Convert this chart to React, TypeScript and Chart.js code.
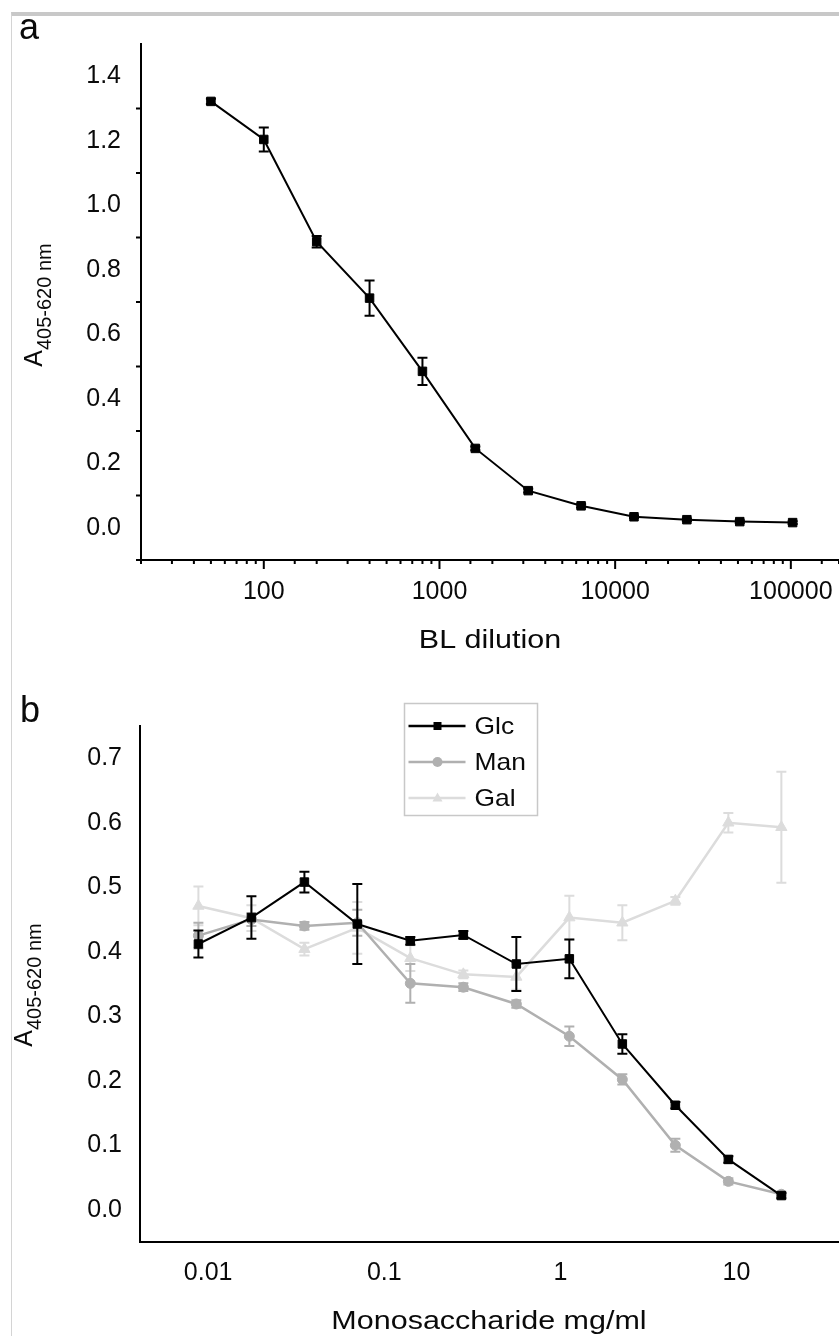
import React, { useEffect, useRef } from 'react';
import { Chart, registerables } from 'chart.js';

Chart.register(...registerables);

const FONT = '"Liberation Sans", Arial, Helvetica, sans-serif';

// ---------- Panel a ----------
const dilutions = [50, 100, 200, 400, 800, 1600, 3200, 6400, 12800, 25600, 51200, 102400];
const absorbanceA = [1.322, 1.204, 0.887, 0.712, 0.485, 0.246, 0.115, 0.068, 0.034, 0.025, 0.019, 0.016];
const errorA = [0.008, 0.037, 0.018, 0.055, 0.042, 0.006, 0.006, 0.005, 0.004, 0.004, 0.004, 0.004];
const xLabelsA = [100, 1000, 10000, 100000];
const yLabelsA = [0, 0.2, 0.4, 0.6, 0.8, 1.0, 1.2, 1.4];

// ---------- Panel b ----------
const concentrations = [0.0088, 0.0176, 0.0352, 0.0703, 0.1406, 0.2813, 0.5625, 1.125, 2.25, 4.5, 9, 18];
const glc = [0.412, 0.453, 0.508, 0.443, 0.417, 0.426, 0.381, 0.389, 0.257, 0.162, 0.078, 0.022];
const glcErr = [0.021, 0.033, 0.016, 0.062, 0.006, 0.006, 0.042, 0.03, 0.015, 0.005, 0.005, 0.004];
const man = [0.425, 0.45, 0.44, 0.445, 0.351, 0.345, 0.319, 0.269, 0.202, 0.1, 0.044, 0.024];
const manErr = [0.02, 0.01, 0.006, 0.02, 0.03, 0.006, 0.006, 0.015, 0.008, 0.01, 0.005, 0.004];
const gal = [0.471, 0.452, 0.404, 0.437, 0.39, 0.365, 0.361, 0.453, 0.445, 0.479, 0.6, 0.593];
const galErr = [0.03, 0.02, 0.01, 0.04, 0.02, 0.006, 0.02, 0.034, 0.027, 0.006, 0.015, 0.086];
const seriesNames = ['Glc', 'Man', 'Gal'];
const seriesColors = ['#000000', '#b0b0b0', '#dcdcdc'];
const xLabelsB = [0.01, 0.1, 1, 10];
const yLabelsB = [0, 0.1, 0.2, 0.3, 0.4, 0.5, 0.6, 0.7];

const TEXT = '#0a0a0a';

function matchLabel(v: number, list: number[], fmt: (n: number) => string, rel: boolean) {
  const hit = list.find((l) => Math.abs(v - l) <= (rel ? Math.abs(l) * 1e-6 : 1e-6));
  return hit === undefined ? '' : fmt(hit);
}

function stretchedText(ctx: any, text: string, x: number, y: number, font: string, sx: number, align: string) {
  ctx.save();
  ctx.font = font;
  ctx.translate(x, y);
  ctx.scale(sx, 1);
  ctx.textAlign = align;
  ctx.textBaseline = 'alphabetic';
  ctx.fillStyle = TEXT;
  ctx.fillText(text, 0, 0);
  ctx.restore();
}

function marker(ctx: any, style: string, x: number, y: number, r: number, color: string) {
  ctx.save();
  ctx.fillStyle = color;
  ctx.beginPath();
  if (style === 'rect') {
    ctx.rect(x - r, y - r, 2 * r, 2 * r);
  } else if (style === 'circle') {
    ctx.arc(x, y, r, 0, Math.PI * 2);
  } else {
    ctx.moveTo(x, y - r * 1.1);
    ctx.lineTo(x + r, y + r * 0.7);
    ctx.lineTo(x - r, y + r * 0.7);
    ctx.closePath();
  }
  ctx.fill();
  ctx.restore();
}

type Decor = {
  letter: string;
  letterX: number;
  letterY: number;
  yTitleX: number;
  yTitleCenter: number;
  xTitle: string;
  xTitleX: number;
  xTitleY: number;
  errors: number[][];
  axisTicks: boolean;
  legend?: { x: number; y: number; w: number; h: number; rows: number[]; styles: string[] };
};

function decorPlugin(d: Decor) {
  return {
    id: 'decor',
    beforeDatasetDraw(chart: any, args: any) {
      const errs = d.errors[args.index];
      if (!errs) return;
      const ds = chart.data.datasets[args.index];
      const meta = chart.getDatasetMeta(args.index);
      const ys = chart.scales.y;
      const ctx = chart.ctx;
      ctx.save();
      ctx.strokeStyle = ds.borderColor;
      ctx.lineWidth = 2;
      ctx.beginPath();
      meta.data.forEach((el: any, i: number) => {
        const v = ds.data[i].y;
        const e = errs[i];
        const t = ys.getPixelForValue(v + e);
        const b = ys.getPixelForValue(v - e);
        ctx.moveTo(el.x, t);
        ctx.lineTo(el.x, b);
        ctx.moveTo(el.x - 5, t);
        ctx.lineTo(el.x + 5, t);
        ctx.moveTo(el.x - 5, b);
        ctx.lineTo(el.x + 5, b);
      });
      ctx.stroke();
      ctx.restore();
    },
    afterDraw(chart: any) {
      const ctx = chart.ctx;
      const ca = chart.chartArea;
      if (d.axisTicks) {
        const xs = chart.scales.x;
        const ys = chart.scales.y;
        ctx.save();
        ctx.strokeStyle = '#000';
        ctx.lineWidth = 2;
        ctx.beginPath();
        xs.ticks.forEach((t: any) => {
          const px = xs.getPixelForValue(t.value);
          if (px < ca.left - 0.5 || px > ca.right + 0.5) return;
          const lg = Math.log10(t.value);
          const major = Math.abs(lg - Math.round(lg)) < 1e-6;
          ctx.moveTo(px, ca.bottom);
          ctx.lineTo(px, ca.bottom + (major ? 9 : 4));
        });
        ys.ticks.forEach((t: any) => {
          const k = Math.round(t.value * 10);
          if (k % 2 === 0 || k >= 15) return;
          const py = ys.getPixelForValue(t.value);
          ctx.moveTo(ca.left, py);
          ctx.lineTo(ca.left - 5, py);
        });
        ctx.stroke();
        ctx.restore();
      }
      // panel letter
      ctx.save();
      ctx.font = `36px ${FONT}`;
      ctx.fillStyle = TEXT;
      ctx.textAlign = 'left';
      ctx.textBaseline = 'alphabetic';
      ctx.fillText(d.letter, d.letterX, d.letterY);
      ctx.restore();
      // y title with subscript
      ctx.save();
      ctx.translate(d.yTitleX, d.yTitleCenter);
      ctx.rotate(-Math.PI / 2);
      ctx.fillStyle = TEXT;
      ctx.textAlign = 'left';
      ctx.textBaseline = 'alphabetic';
      ctx.font = `25px ${FONT}`;
      const wA = ctx.measureText('A').width;
      ctx.font = `20px ${FONT}`;
      const wS = ctx.measureText('405-620 nm').width;
      const start = -(wA + wS) / 2;
      ctx.font = `25px ${FONT}`;
      ctx.fillText('A', start, 0);
      ctx.font = `20px ${FONT}`;
      ctx.fillText('405-620 nm', start + wA, 9);
      ctx.restore();
      // x title
      stretchedText(ctx, d.xTitle, d.xTitleX, d.xTitleY, `25px ${FONT}`, 1.22, 'center');
      // legend
      if (d.legend) {
        const L = d.legend;
        ctx.save();
        ctx.strokeStyle = '#c8c8c8';
        ctx.lineWidth = 1.5;
        ctx.strokeRect(L.x, L.y, L.w, L.h);
        ctx.restore();
        chart.data.datasets.forEach((ds: any, i: number) => {
          const yy = L.rows[i];
          ctx.save();
          ctx.strokeStyle = ds.borderColor;
          ctx.lineWidth = 2.5;
          ctx.beginPath();
          ctx.moveTo(L.x + 4, yy);
          ctx.lineTo(L.x + 61, yy);
          ctx.stroke();
          ctx.restore();
          marker(ctx, L.styles[i], L.x + 33, yy, i === 0 ? 4 : 5, ds.borderColor);
          stretchedText(ctx, ds.label, L.x + 70, yy + 8, `24px ${FONT}`, 1.1, 'left');
        });
      }
    },
  };
}

function baseScales(opts: any) {
  return {
    x: {
      type: 'logarithmic',
      min: opts.xMin,
      max: opts.xMax,
      afterFit: (s: any) => {
        s.height = opts.xHeight;
        s.paddingLeft = 0;
        s.paddingRight = 0;
      },
      grid: { display: true, drawOnChartArea: false, drawTicks: false },
      border: { display: true, color: '#000', width: 2 },
      ticks: {
        autoSkip: false,
        maxRotation: 0,
        minRotation: 0,
        padding: opts.xPad,
        color: TEXT,
        font: { family: FONT, size: 25 },
        callback: (v: any) => matchLabel(Number(v), opts.xLabels, opts.xFmt, true),
      },
    },
    y: {
      type: 'linear',
      min: opts.yMin,
      max: opts.yMax,
      afterFit: (s: any) => {
        s.width = opts.yWidth;
        s.paddingTop = 0;
        s.paddingBottom = 0;
      },
      grid: { display: true, drawOnChartArea: false, drawTicks: false },
      border: { display: true, color: '#000', width: 2 },
      ticks: {
        stepSize: opts.yStep,
        autoSkip: false,
        padding: opts.yPad,
        color: TEXT,
        font: { family: FONT, size: 25 },
        callback: (v: any) => matchLabel(Number(v), opts.yLabels, (n: number) => n.toFixed(1), false),
      },
    },
  };
}

export default function App() {
  const refA = useRef<HTMLCanvasElement | null>(null);
  const refB = useRef<HTMLCanvasElement | null>(null);

  useEffect(() => {
    const chartA = new Chart(refA.current as HTMLCanvasElement, {
      type: 'line',
      data: {
        datasets: [
          {
            label: 'BL',
            data: dilutions.map((x, i) => ({ x, y: absorbanceA[i] })),
            borderColor: '#000000',
            backgroundColor: '#000000',
            borderWidth: 2,
            pointStyle: 'rect',
            pointRadius: 6,
            pointBorderWidth: 1,
            tension: 0,
          },
        ],
      },
      options: {
        animation: false,
        responsive: false,
        events: [],
        layout: { padding: { left: 0, top: 44, right: 0, bottom: 0 } },
        plugins: { legend: { display: false }, tooltip: { enabled: false } },
        scales: baseScales({
          xMin: 20,
          xMax: 188000,
          xHeight: 100,
          xPad: 17,
          xLabels: xLabelsA,
          xFmt: (n: number) => String(Math.round(n)),
          yMin: -0.1,
          yMax: 1.5,
          yStep: 0.1,
          yWidth: 141,
          yPad: 20,
          yLabels: yLabelsA,
        }),
      } as any,
      plugins: [
        decorPlugin({
          letter: 'a',
          letterX: 19,
          letterY: 39,
          yTitleX: 42,
          yTitleCenter: 305,
          xTitle: 'BL dilution',
          xTitleX: 490,
          xTitleY: 648,
          errors: [errorA],
          axisTicks: true,
        }) as any,
      ],
    });

    const seriesB = [glc, man, gal];
    const errB = [glcErr, manErr, galErr];
    const styles = ['rect', 'circle', 'triangle'];
    const radii = [6, 5, 6.5];
    const chartB = new Chart(refB.current as HTMLCanvasElement, {
      type: 'line',
      data: {
        datasets: seriesB.map((vals, k) => ({
          label: seriesNames[k],
          data: concentrations.map((x, i) => ({ x, y: vals[i] })),
          borderColor: seriesColors[k],
          backgroundColor: seriesColors[k],
          borderWidth: k === 0 ? 2 : 2.5,
          pointStyle: styles[k],
          pointRadius: radii[k],
          pointBorderWidth: 1,
          tension: 0,
        })),
      },
      options: {
        animation: false,
        responsive: false,
        events: [],
        layout: { padding: { left: 0, top: 66, right: 0, bottom: 0 } },
        plugins: { legend: { display: false }, tooltip: { enabled: false } },
        scales: baseScales({
          xMin: 0.0041,
          xMax: 38,
          xHeight: 94,
          xPad: 16,
          xLabels: xLabelsB,
          xFmt: (n: number) => (n >= 1 ? String(Math.round(n)) : String(Number(n.toPrecision(1)))),
          yMin: -0.05,
          yMax: 0.75,
          yStep: 0.05,
          yWidth: 140,
          yPad: 18,
          yLabels: yLabelsB,
        }),
      } as any,
      plugins: [
        decorPlugin({
          letter: 'b',
          letterX: 20,
          letterY: 62,
          yTitleX: 32,
          yTitleCenter: 325,
          xTitle: 'Monosaccharide mg/ml',
          xTitleX: 489,
          xTitleY: 669,
          errors: errB,
          axisTicks: false,
          legend: { x: 404.5, y: 43.5, w: 133, h: 112, rows: [66, 102, 138], styles },
        }) as any,
      ],
    });

    return () => {
      chartA.destroy();
      chartB.destroy();
    };
  }, []);

  return (
    <div style={{ position: 'absolute', left: 0, top: 0, width: 839, height: 1336, overflow: 'hidden', background: '#fff' }}>
      <canvas ref={refA} width={846} height={660} style={{ position: 'absolute', left: 0, top: 0, display: 'block' }} />
      <canvas ref={refB} width={846} height={676} style={{ position: 'absolute', left: 0, top: 660, display: 'block' }} />
      <div
        style={{
          position: 'absolute',
          left: 11,
          top: 12,
          width: 828,
          height: 1324,
          borderTop: '4px solid #c8c8c8',
          borderLeft: '1px solid #d4d4d4',
          boxSizing: 'border-box',
          pointerEvents: 'none',
        }}
      />
    </div>
  );
}
